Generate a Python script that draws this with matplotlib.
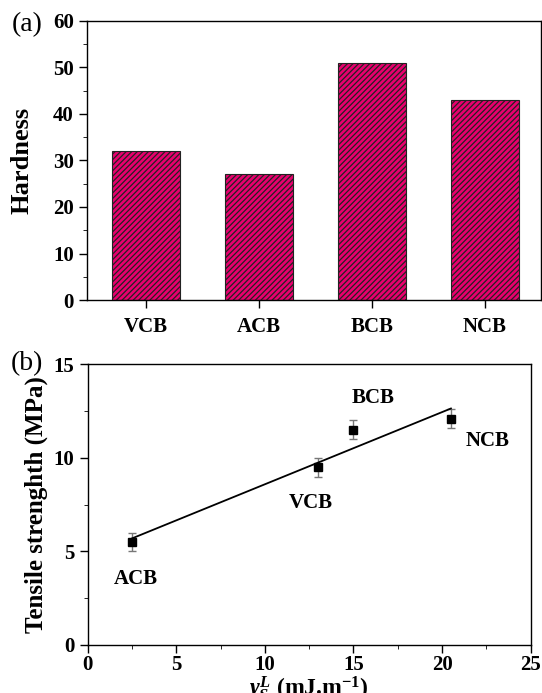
import numpy as np
import matplotlib
matplotlib.use("Agg")
import matplotlib.pyplot as plt
from matplotlib.ticker import MultipleLocator

# --- data ---
samples = ["VCB", "ACB", "BCB", "NCB"]
hardness = [32, 27, 51, 43]

gamma = [2.5, 13.0, 15.0, 20.5]
tensile = [5.5, 9.5, 11.5, 12.1]
tensile_err = [0.5, 0.5, 0.5, 0.5]
point_labels = ["ACB", "VCB", "BCB", "NCB"]
label_pos = [(2.7, 3.55), (12.6, 7.6), (16.1, 13.2), (22.6, 10.9)]

plt.rcParams['font.family'] = 'Liberation Serif'
plt.rcParams['font.weight'] = 'bold'
plt.rcParams['mathtext.fontset'] = 'custom'
plt.rcParams['mathtext.rm'] = 'Liberation Serif:bold'
plt.rcParams['mathtext.it'] = 'Liberation Serif:italic:bold'
plt.rcParams['mathtext.bf'] = 'Liberation Serif:bold'
plt.rcParams['hatch.linewidth'] = 0.9

fig = plt.figure(figsize=(5.42, 6.93), dpi=100)

# --- (a) hardness bars ---
ax1 = fig.add_axes([0.1605, 0.567, 0.838, 0.403])
x = np.arange(len(samples))
ax1.bar(x, hardness, width=0.6, color='#E8006E', edgecolor='#222222',
        hatch='//////', linewidth=0.8)
ax1.set_xlim(-0.52, 3.5)
ax1.set_ylim(0, 60)
ax1.set_xticks(x)
ax1.set_xticklabels(samples, fontsize=15, fontweight='bold')
ax1.yaxis.set_major_locator(MultipleLocator(10))
ax1.yaxis.set_minor_locator(MultipleLocator(5))
ax1.tick_params(axis='both', direction='out', length=6, width=1, labelsize=15)
ax1.tick_params(axis='x', pad=6)
ax1.tick_params(axis='y', which='minor', direction='out', length=3)
ax1.set_ylabel('Hardness', fontsize=19, fontweight='bold', labelpad=14)
for s in ax1.spines.values():
    s.set_linewidth(1.0)
fig.text(0.05, 0.965, '(a)', fontsize=20, fontweight='normal', ha='center', va='center')

# --- (b) tensile strength vs gamma ---
ax2 = fig.add_axes([0.162, 0.0693, 0.817, 0.405])
ax2.errorbar(gamma, tensile, yerr=tensile_err, fmt='s', color='black',
             markersize=6, ecolor='#777777', elinewidth=1, capsize=3, capthick=1)
slope, intercept = np.polyfit(gamma, tensile, 1)
xf = np.array([min(gamma), max(gamma)])
ax2.plot(xf, slope * xf + intercept, color='black', linewidth=1.3)
for name, (lx, ly) in zip(point_labels, label_pos):
    ax2.text(lx, ly, name, fontsize=15, fontweight='bold', ha='center', va='center')
ax2.set_xlim(0, 25)
ax2.set_ylim(0, 15)
ax2.xaxis.set_major_locator(MultipleLocator(5))
ax2.xaxis.set_minor_locator(MultipleLocator(2.5))
ax2.yaxis.set_major_locator(MultipleLocator(5))
ax2.yaxis.set_minor_locator(MultipleLocator(2.5))
ax2.tick_params(axis='both', direction='out', length=6, width=1, labelsize=15)
ax2.tick_params(axis='x', pad=1)
ax2.tick_params(axis='both', which='minor', direction='out', length=3)
ax2.set_ylabel('Tensile strenghth (MPa)', fontsize=18, fontweight='bold')
ax2.yaxis.set_label_coords(-0.09, 0.5)
ax2.set_xlabel(r'$\gamma_S^L$ (mJ.m$^{-1}$)', fontsize=17, fontweight='bold')
ax2.xaxis.set_label_coords(0.5, -0.105)
for s in ax2.spines.values():
    s.set_linewidth(1.0)
fig.text(0.05, 0.475, '(b)', fontsize=20, fontweight='normal', ha='center', va='center')

fig.savefig('out.png', dpi=100)
